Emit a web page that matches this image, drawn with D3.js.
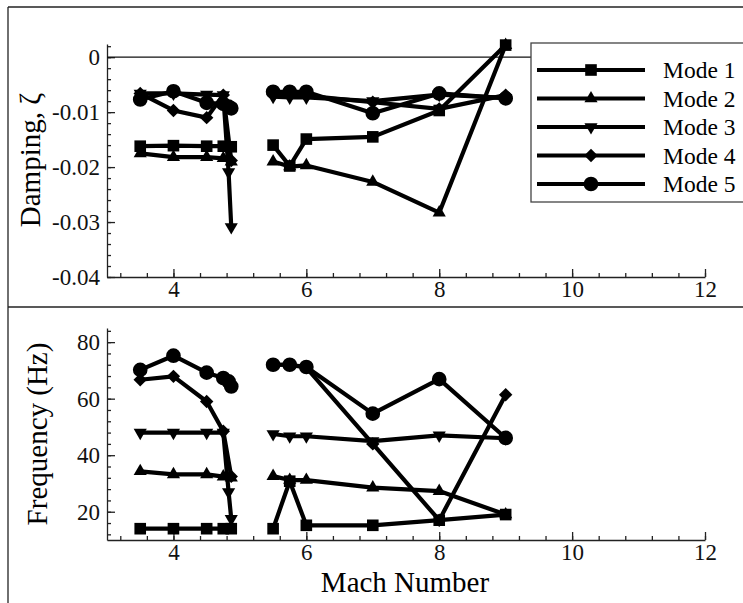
<!DOCTYPE html>
<meta charset="utf-8">
<style>
body { margin: 0; background: #fff; }
.frame { stroke: #222; stroke-width: 1.3; }
</style>
<svg width="743" height="603"></svg>
<script src="https://d3js.org/d3.v7.min.js"></script>
<script>
// Mach numbers: two runs with a gap between them
var machA = [3.5, 4.0, 4.5, 4.75, 4.83, 4.87];
var machB = [5.5, 5.75, 6.0, 7.0, 8.0, 9.0];
var modes = ["Mode 1", "Mode 2", "Mode 3", "Mode 4", "Mode 5"];

// damping (null = no point at that Mach)
var dampA1 = [-0.0162, -0.0161, -0.0162, -0.0162, null, -0.0163];
var dampA2 = [-0.0175, -0.0182, -0.0182, -0.0184, null, -0.0190];
var dampA3 = [-0.0066, -0.0066, -0.0068, -0.0069, -0.0209, -0.0309];
var dampA4 = [-0.0066, -0.0097, -0.0110, -0.0069, null, -0.0188];
var dampA5 = [-0.0077, -0.0062, -0.0083, -0.0085, -0.0090, -0.0093];
var dampB1 = [-0.0160, -0.0198, -0.0149, -0.0145, -0.0097, 0.0022];
var dampB2 = [-0.0190, -0.0199, -0.0197, -0.0227, -0.0283, 0.0022];
var dampB3 = [-0.0072, -0.0073, -0.0073, -0.0080, -0.0068, -0.0074];
var dampB4 = [-0.0068, -0.0069, -0.0070, -0.0082, -0.0094, -0.0069];
var dampB5 = [-0.0063, -0.0063, -0.0063, -0.0102, -0.0066, -0.0075];

// frequency (Hz)
var freqA1 = [14, 14, 14, 14, null, 14];
var freqA2 = [34.3, 33.2, 33.2, 32.4, null, 32];
var freqA3 = [48, 48, 48, 48, 27, 17.5];
var freqA4 = [66.7, 67.9, 59, 48.5, null, 32.5];
var freqA5 = [70.2, 75.2, 69.2, 67.3, 66.1, 64.3];
var freqB1 = [14, 30.8, 15.2, 15.2, 17, 19];
var freqB2 = [32.6, 31.2, 31.2, 28.5, 27.3, 19];
var freqB3 = [47.5, 46.7, 46.7, 45, 47, 46];
var freqB4 = [72, 72, 71, 44, 17, 61.4];
var freqB5 = [72, 72, 71.2, 54.7, 66.9, 46.1];

var xTicks = [4, 6, 8, 10, 12];
var dampTicks = [0, -0.01, -0.02, -0.03, -0.04];
var freqTicks = [20, 40, 60, 80];

var dampA = [dampA1, dampA2, dampA3, dampA4, dampA5];
var dampB = [dampB1, dampB2, dampB3, dampB4, dampB5];
var freqA = [freqA1, freqA2, freqA3, freqA4, freqA5];
var freqB = [freqB1, freqB2, freqB3, freqB4, freqB5];

var FONT = "'Liberation Serif', 'Times New Roman', serif";
var svg = d3.select("svg");

// frame around the two panels
svg.append("line").attr("class", "frame").attr("x1", 8).attr("x2", 743).attr("y1", 7).attr("y2", 7);
svg.append("line").attr("class", "frame").attr("x1", 8).attr("x2", 8).attr("y1", 7).attr("y2", 603);
svg.append("line").attr("class", "frame").attr("x1", 8).attr("x2", 743).attr("y1", 307).attr("y2", 307);

var x = d3.scaleLinear().domain([3, 12]).range([107, 705]);
var yTop = d3.scaleLinear().domain([-0.04, 0.0024]).range([277, 44]);
var yBot = d3.scaleLinear().domain([10, 85]).range([540, 328]);

var minorX = d3.range(3.2, 12.01, 0.4).map(function(d) { return +d.toFixed(1); });

function drawAxes(y, bottom, ticks, minorY, fmt) {
    var g = svg.append("g").attr("class", "axis");
    g.append("g").attr("transform", "translate(0," + bottom + ")")
        .call(d3.axisBottom(x).tickValues(minorX).tickSize(-4).tickSizeOuter(0).tickFormat(""));
    g.append("g").attr("transform", "translate(0," + bottom + ")")
        .call(d3.axisBottom(x).tickValues(xTicks).tickSize(-8).tickSizeOuter(0).tickPadding(4))
        .select(".domain").remove();
    g.append("g").attr("transform", "translate(107,0)")
        .call(d3.axisLeft(y).tickValues(minorY).tickSize(-4).tickSizeOuter(0).tickFormat(""));
    g.append("g").attr("transform", "translate(107,0)")
        .call(d3.axisLeft(y).tickValues(ticks).tickSize(-8).tickSizeOuter(0).tickPadding(7).tickFormat(fmt))
        .select(".domain").remove();
    g.selectAll("line").attr("stroke", "#222").attr("stroke-width", 1.3);
    g.selectAll(".domain").attr("stroke", "#222").attr("stroke-width", 1.3);
    g.selectAll("text").style("font-family", FONT).style("font-size", "23px").attr("fill", "#111");
}

drawAxes(yTop, 277, dampTicks,
    d3.range(-40, 3, 2).map(function(d) { return d / 1000; }),
    function(d) { return d === 0 ? "0" : d.toFixed(2); });
drawAxes(yBot, 540, freqTicks, d3.range(12, 85, 4), function(d) { return d; });

// zero line of the damping panel
svg.append("line").attr("x1", x(3)).attr("x2", x(12))
    .attr("y1", yTop(0)).attr("y2", yTop(0))
    .attr("stroke", "#111").attr("stroke-width", 1.3);

// markers
var shapes = [
    d3.symbol().type(d3.symbolSquare).size(135),
    d3.symbol().type(d3.symbolTriangle).size(75),
    d3.symbol().type(d3.symbolTriangle).size(75),
    d3.symbol().type(d3.symbolSquare).size(90),
    d3.symbol().type(d3.symbolCircle).size(170)
];
var rotate = [0, 0, 180, 45, 0];

function pts(mach, vals) {
    return mach.map(function(m, i) { return [m, vals[i]]; })
        .filter(function(p) { return p[1] !== null; });
}

function drawSeries(y, setA, setB) {
    var line = d3.line().x(function(d) { return x(d[0]); }).y(function(d) { return y(d[1]); });
    modes.forEach(function(name, k) {
        var g = svg.append("g");
        [pts(machA, setA[k]), pts(machB, setB[k])].forEach(function(seg) {
            g.append("path").datum(seg).attr("d", line)
                .attr("fill", "none").attr("stroke", "#000")
                .attr("stroke-width", 4.2).attr("stroke-linejoin", "round");
            g.selectAll(null).data(seg).enter().append("path")
                .attr("d", shapes[k])
                .attr("transform", function(d) {
                    return "translate(" + x(d[0]) + "," + y(d[1]) + ") rotate(" + rotate[k] + ")";
                })
                .attr("fill", "#000");
        });
    });
}

drawSeries(yTop, dampA, dampB);
drawSeries(yBot, freqA, freqB);

// axis titles
svg.append("text").attr("transform", "translate(40,160) rotate(-90)")
    .attr("text-anchor", "middle").style("font-family", FONT).style("font-size", "29px")
    .text("Damping, \u03B6");
svg.append("text").attr("transform", "translate(47,434) rotate(-90)")
    .attr("text-anchor", "middle").style("font-family", FONT).style("font-size", "29px")
    .text("Frequency (Hz)");
svg.append("text").attr("x", 405).attr("y", 592)
    .attr("text-anchor", "middle").style("font-family", FONT).style("font-size", "29px")
    .text("Mach Number");

// legend
var leg = svg.append("g");
leg.append("rect").attr("x", 531).attr("y", 43).attr("width", 230).attr("height", 159)
    .attr("fill", "#fff").attr("stroke", "#444").attr("stroke-width", 1.3);
modes.forEach(function(name, k) {
    var ly = 70 + k * 28.5;
    leg.append("line").attr("x1", 537).attr("x2", 645).attr("y1", ly).attr("y2", ly)
        .attr("stroke", "#000").attr("stroke-width", 4.2);
    leg.append("path").attr("d", shapes[k])
        .attr("transform", "translate(591," + ly + ") rotate(" + rotate[k] + ")")
        .attr("fill", "#000");
    leg.append("text").attr("x", 663).attr("y", ly + 8)
        .style("font-family", FONT).style("font-size", "23.5px").text(name);
});
</script>
